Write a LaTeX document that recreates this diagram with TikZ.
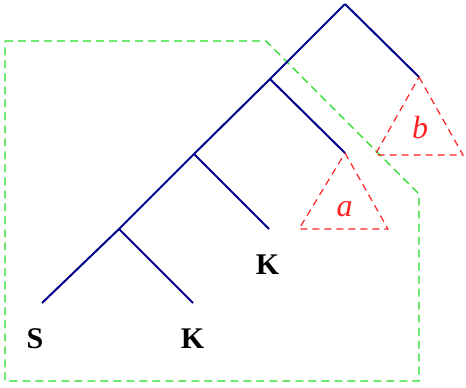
\documentclass[tikz,border=0pt]{standalone}
\usepackage{fontspec}
\setmainfont{Liberation Serif}
\usepackage{xcolor}
\usetikzlibrary{positioning}
\definecolor{treeblue}{HTML}{00008B}
\definecolor{boxgreen}{HTML}{22DD22}
\definecolor{subred}{HTML}{FF2222}

\begin{document}
\begin{tikzpicture}[x=0.5pt, y=-0.5pt,
  branch/.style={draw=treeblue, line width=1pt},
  region/.style={draw=boxgreen, line width=0.7pt, dash pattern=on 4pt off 2.5pt},
  subtree/.style={draw=subred, line width=0.6pt, dash pattern=on 3.5pt off 2.5pt},
  leaflabel/.style={font=\fontsize{15}{17}\selectfont\bfseries, inner sep=0pt},
  treelabel/.style={font=\fontsize{16}{18}\selectfont\itshape, text=subred, inner sep=0pt}]
\useasboundingbox (0,0) rectangle (466,387);
% tree nodes
\coordinate (root) at (345,4);
\coordinate (n1) at (270,79);
\coordinate (n2) at (194,154);
\coordinate (n3) at (119,229);
\coordinate (s) at (42,303);
\coordinate (k1) at (193,303);
\coordinate (k2) at (269,229);
\coordinate (ta) at (345,153);
\coordinate (tb) at (419,77);
% green region
\draw[region] (5,41) -- (266,41) -- (419,194) -- (419,381) -- (5,381) -- cycle;
% red subtrees
\draw[subtree] (tb) -- (463,155) -- (375,155) -- cycle;
\draw[subtree] (ta) -- (388,229) -- (299,229) -- cycle;
\node[treelabel] (lb) at (420,128) {b};
\node[treelabel] (la) at (344.5,209) {a};
% branches
\draw[branch] (root) -- (tb);
\draw[branch] (root) -- (n1) -- (n2) -- (n3) -- (s);
\draw[branch] (n1) -- (ta);
\draw[branch] (n2) -- (k2);
\draw[branch] (n3) -- (k1);
% leaves
\node[leaflabel] (ls) at (35,339) {S};
\node[leaflabel] (lk1) at (192.5,339) {K};
\node[leaflabel] (lk2) at (267.5,264.5) {K};
\end{tikzpicture}
\end{document}
